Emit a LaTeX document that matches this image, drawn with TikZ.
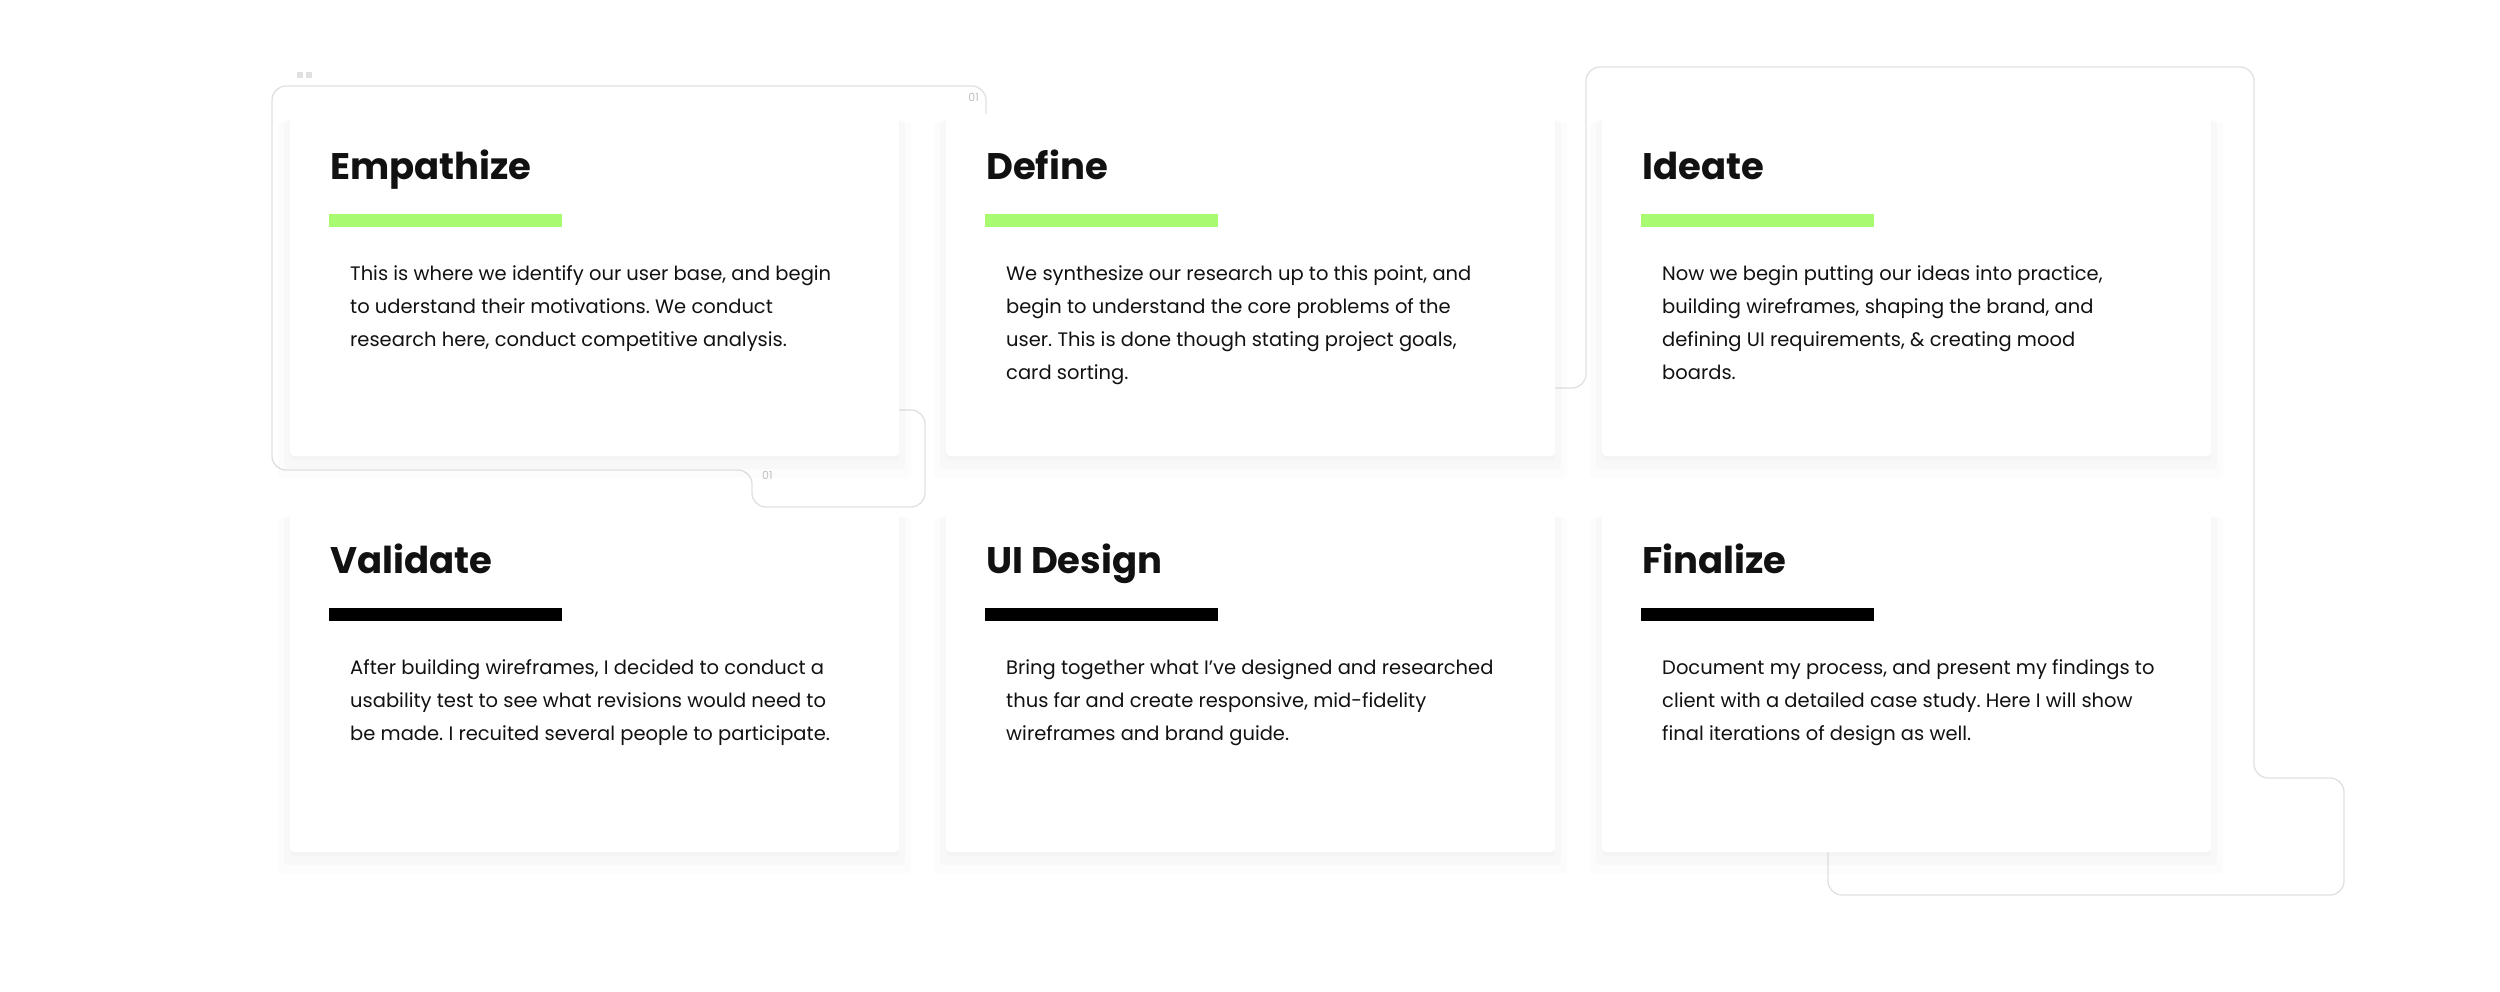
\documentclass[tikz,border=0pt]{standalone}
\usepackage{fontspec}
\setmainfont{Poppins}
\frenchspacing
\usetikzlibrary{calc,shadows,backgrounds}
\definecolor{accentColor}{RGB}{168, 250, 112}
\definecolor{frameColor}{RGB}{224, 224, 224}
\definecolor{labelColor}{RGB}{190, 190, 190}
\definecolor{inkColor}{RGB}{17, 17, 17}

\begin{document}
\begin{tikzpicture}[
    x=1pt, y=-1pt,
    every node/.style={inner sep=0pt, text=inkColor},
    card/.style={anchor=north west, fill=white, rounded corners=4pt, minimum width=609pt, minimum height=342pt,
        drop shadow={shadow xshift=0pt, shadow yshift=-4pt, opacity=.03, shadow scale=1.00},
        drop shadow={shadow xshift=0pt, shadow yshift=-9pt, opacity=.03, shadow scale=1.02},
        drop shadow={shadow xshift=0pt, shadow yshift=-14pt, opacity=.025, shadow scale=1.04}},
    card title/.style={anchor=base west, font=\fontsize{37}{44}\selectfont\bfseries},
    card bar/.style={anchor=north west, minimum width=233pt, minimum height=13pt},
    card text/.style={anchor=north west, align=left, font=\fontsize{19.5}{33}\selectfont},
    frame/.style={frameColor, line width=1.3pt, rounded corners=14pt},
    frame label/.style={text=labelColor, font=\fontsize{11}{12}\selectfont}
]
    \useasboundingbox (0,0) rectangle (2500,991);

    \node[card] (empathize) at (290,114) {};
    \node[card] (define)    at (946,114) {};
    \node[card] (ideate)    at (1602,114) {};
    \node[card] (validate)  at (290,510) {};
    \node[card] (uidesign)  at (946,510) {};
    \node[card] (finalize)  at (1602,510) {};

    \node[card title] (empathize_title) at ($ (empathize.north west) + (40,65) $) {Empathize};
    \node[card bar, fill=accentColor] (empathize_bar) at ($ (empathize.north west) + (39,100) $) {};
    \node[card text] (empathize_text) at ($ (empathize.north west) + (60,151) $)
        {This is where we identify our user base, and begin\\
         to uderstand their motivations. We conduct\\
         research here, conduct competitive analysis.};

    \node[card title] (define_title) at ($ (define.north west) + (40,65) $) {Define};
    \node[card bar, fill=accentColor] (define_bar) at ($ (define.north west) + (39,100) $) {};
    \node[card text] (define_text) at ($ (define.north west) + (60,151) $)
        {We synthesize our research up to this point, and\\
         begin to understand the core problems of the\\
         user. This is done though stating project goals,\\
         card sorting.};

    \node[card title] (ideate_title) at ($ (ideate.north west) + (40,65) $) {Ideate};
    \node[card bar, fill=accentColor] (ideate_bar) at ($ (ideate.north west) + (39,100) $) {};
    \node[card text] (ideate_text) at ($ (ideate.north west) + (60,151) $)
        {Now we begin putting our ideas into practice,\\
         building wireframes, shaping the brand, and\\
         defining UI requirements, \& creating mood\\
         boards.};

    \node[card title] (validate_title) at ($ (validate.north west) + (40,63) $) {Validate};
    \node[card bar, fill=black] (validate_bar) at ($ (validate.north west) + (39,98) $) {};
    \node[card text] (validate_text) at ($ (validate.north west) + (60,149) $)
        {After building wireframes, I decided to conduct a\\
         usability test to see what revisions would need to\\
         be made. I recuited several people to participate.};

    \node[card title] (uidesign_title) at ($ (uidesign.north west) + (40,63) $) {UI Design};
    \node[card bar, fill=black] (uidesign_bar) at ($ (uidesign.north west) + (39,98) $) {};
    \node[card text] (uidesign_text) at ($ (uidesign.north west) + (60,149) $)
        {Bring together what I’ve designed and researched\\
         thus far and create responsive, mid-fidelity\\
         wireframes and brand guide.};

    \node[card title] (finalize_title) at ($ (finalize.north west) + (40,63) $) {Finalize};
    \node[card bar, fill=black] (finalize_bar) at ($ (finalize.north west) + (39,98) $) {};
    \node[card text] (finalize_text) at ($ (finalize.north west) + (60,149) $)
        {Document my process, and present my findings to\\
         client with a detailed case study. Here I will show\\
         final iterations of design as well.};

    \begin{scope}[on background layer]
        \draw[frame] ($ (define.north west) + (40,0) $)
            |- (272,86) |- (752,470) |- (925,507)
            |- ($ (empathize.north east) + (0,296) $);
        \draw[frame] ($ (define.north east) + (0,274) $)
            -| (1586,67) -| (2254,778) -| (2344,895)
            -| ($ (finalize.south west) + (226,0) $);
    \end{scope}

    \node[fill=frameColor, minimum size=6pt] (dot_a) at (300,75) {};
    \node[fill=frameColor, minimum size=6pt] (dot_b) at (309,75) {};
    \node[frame label, anchor=east] (label_top) at (979,97) {01};
    \node[frame label, anchor=west] (label_bottom) at (762,475) {01};
\end{tikzpicture}
\end{document}
